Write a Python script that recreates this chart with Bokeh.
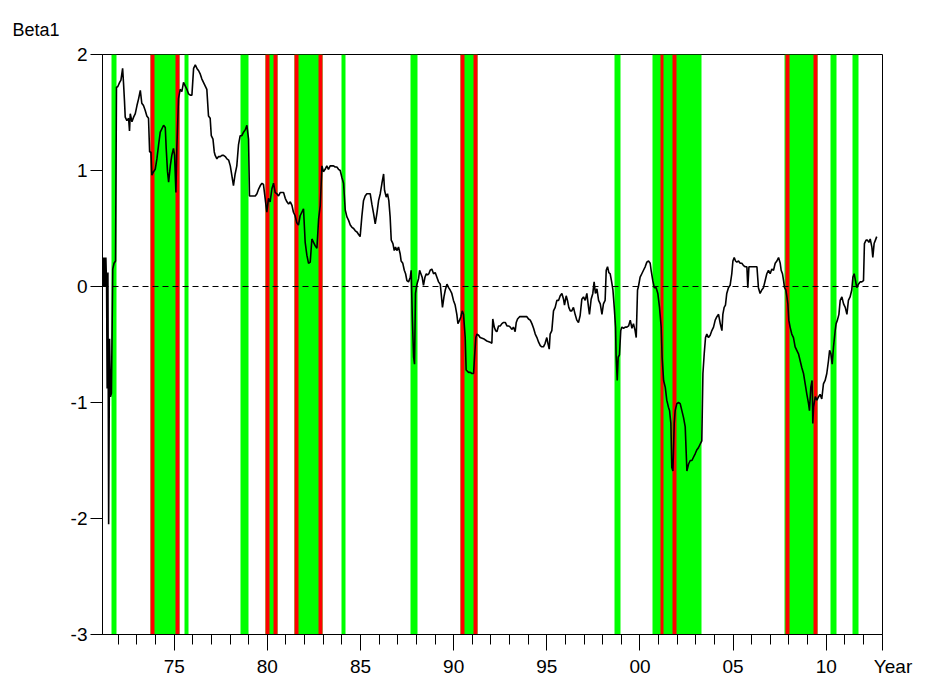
from bokeh.plotting import figure
from bokeh.models import FixedTicker, Span, Range1d
from bokeh.embed import file_html
from bokeh.resources import INLINE

# ---- data ----
years = [
    1971.17, 1971.21, 1971.25, 1971.29, 1971.33, 1971.37, 1971.40, 1971.44, 1971.48, 1971.53,
    1971.58, 1971.63, 1971.70, 1971.77, 1971.85, 1971.90,
    1971.96, 1972.07, 1972.14, 1972.23, 1972.28, 1972.33, 1972.37, 1972.46, 1972.55, 1972.60,
    1972.64, 1972.73, 1972.82, 1972.91, 1973.00, 1973.09, 1973.18, 1973.26, 1973.35, 1973.44,
    1973.53, 1973.62, 1973.68, 1973.75, 1973.80, 1973.89, 1973.98, 1974.07, 1974.16, 1974.25,
    1974.34, 1974.43, 1974.52, 1974.57, 1974.64, 1974.70, 1974.79, 1974.87, 1974.96, 1975.02,
    1975.09, 1975.14, 1975.23, 1975.32, 1975.41, 1975.50, 1975.59, 1975.68, 1975.77, 1975.86,
    1975.95, 1976.04, 1976.13, 1976.22, 1976.31, 1976.40, 1976.48, 1976.57, 1976.66, 1976.75,
    1976.84, 1976.93, 1976.99, 1977.08, 1977.15, 1977.20, 1977.29, 1977.38, 1977.47, 1977.56,
    1977.65, 1977.74, 1977.83, 1977.92, 1978.01, 1978.09, 1978.18, 1978.27, 1978.36, 1978.45,
    1978.54, 1978.63, 1978.72, 1978.81, 1978.90, 1978.99, 1979.04, 1979.17, 1979.26, 1979.35,
    1979.44, 1979.53, 1979.62, 1979.71, 1979.79, 1979.88, 1979.97, 1980.06, 1980.15, 1980.24,
    1980.33, 1980.42, 1980.51, 1980.60, 1980.69, 1980.78, 1980.87, 1980.96, 1981.05, 1981.14,
    1981.23, 1981.32, 1981.40, 1981.49, 1981.58, 1981.67, 1981.76, 1981.85, 1981.94, 1982.03,
    1982.12, 1982.21, 1982.30, 1982.39, 1982.48, 1982.57, 1982.66, 1982.75, 1982.84, 1982.93,
    1983.01, 1983.10, 1983.19, 1983.28, 1983.37,
    1983.55, 1983.64, 1983.73, 1983.82, 1983.91, 1984.00, 1984.09, 1984.18, 1984.27, 1984.36,
    1984.45, 1984.54, 1984.63, 1984.72, 1984.81, 1984.89, 1984.98, 1985.07, 1985.16, 1985.25,
    1985.34, 1985.43, 1985.52, 1985.61, 1985.70, 1985.79, 1985.88, 1985.97, 1986.06, 1986.15,
    1986.24, 1986.29, 1986.38, 1986.45, 1986.52, 1986.59, 1986.65, 1986.74, 1986.81, 1986.88,
    1986.95, 1987.04, 1987.13, 1987.18, 1987.27, 1987.35, 1987.42, 1987.49, 1987.58, 1987.67,
    1987.72, 1987.78, 1987.85, 1987.90, 1987.95, 1988.03, 1988.12, 1988.17, 1988.24, 1988.31,
    1988.38, 1988.46, 1988.53, 1988.60, 1988.67, 1988.74, 1988.83, 1988.92, 1989.01, 1989.10,
    1989.19, 1989.28, 1989.33, 1989.40, 1989.48, 1989.55, 1989.64, 1989.73, 1989.81, 1989.90,
    1989.99, 1990.08, 1990.17, 1990.23, 1990.32, 1990.39, 1990.46, 1990.53, 1990.62, 1990.67,
    1990.80, 1990.89, 1990.98, 1991.07, 1991.12, 1991.19, 1991.25, 1991.34, 1991.42,
    1991.60, 1991.78, 1991.96, 1992.05, 1992.10, 1992.18, 1992.25, 1992.32, 1992.41, 1992.50,
    1992.59, 1992.68, 1992.77, 1992.86, 1992.95, 1993.04, 1993.12, 1993.21, 1993.30, 1993.36,
    1993.43, 1993.54, 1993.66, 1993.75, 1993.84, 1993.93, 1994.02, 1994.11, 1994.20, 1994.29,
    1994.38, 1994.47, 1994.56, 1994.65, 1994.73, 1994.82, 1994.91, 1995.00, 1995.06, 1995.13,
    1995.18, 1995.27, 1995.36, 1995.45, 1995.54, 1995.63, 1995.72, 1995.81, 1995.90, 1995.95,
    1996.04, 1996.11, 1996.18, 1996.26, 1996.34, 1996.43, 1996.52, 1996.61, 1996.70, 1996.79,
    1996.88, 1996.97, 1997.06, 1997.15, 1997.24, 1997.29, 1997.38, 1997.47, 1997.54, 1997.61,
    1997.69, 1997.78, 1997.87, 1997.96, 1998.04, 1998.13, 1998.19, 1998.26, 1998.33, 1998.40,
    1998.47, 1998.55, 1998.62, 1998.69, 1998.72, 1998.78, 1998.83, 1998.90, 1998.97, 1999.03,
    1999.12, 1999.21, 1999.30, 1999.39, 1999.48, 1999.57, 1999.65, 1999.74, 1999.80, 1999.87,
    1999.92,
    2000.01, 2000.10, 2000.19, 2000.28, 2000.37, 2000.46, 2000.55, 2000.60, 2000.69, 2000.77,
    2000.87, 2000.96, 2001.05, 2001.14, 2001.19, 2001.27, 2001.36, 2001.44, 2001.53, 2001.59,
    2001.66, 2001.71, 2001.77, 2001.84, 2001.89, 2001.98, 2002.07, 2002.16, 2002.25, 2002.34,
    2002.43, 2002.52, 2002.61, 2002.70, 2002.79, 2002.88, 2002.97, 2003.05, 2003.14, 2003.23,
    2003.32, 2003.38, 2003.45, 2003.52, 2003.59, 2003.68, 2003.77, 2003.86, 2003.95, 2004.04,
    2004.13, 2004.22, 2004.31, 2004.40, 2004.45, 2004.52, 2004.59, 2004.66, 2004.75, 2004.84,
    2004.93, 2004.99, 2005.06, 2005.13, 2005.20, 2005.29, 2005.38, 2005.47, 2005.56, 2005.65,
    2005.74, 2005.79, 2005.85, 2005.92, 2006.10, 2006.28, 2006.36, 2006.45, 2006.54, 2006.63,
    2006.72, 2006.81, 2006.90, 2006.99, 2007.08, 2007.17, 2007.26, 2007.35, 2007.44, 2007.53,
    2007.58, 2007.65, 2007.71, 2007.76, 2007.83, 2007.89, 2007.94, 2007.99, 2008.06, 2008.15,
    2008.24, 2008.33, 2008.42, 2008.51, 2008.60, 2008.69, 2008.78, 2008.87, 2008.96, 2009.05,
    2009.10, 2009.17, 2009.24, 2009.28, 2009.32, 2009.41, 2009.50, 2009.59, 2009.67, 2009.76,
    2009.85, 2009.94, 2010.03, 2010.12, 2010.18, 2010.25, 2010.32, 2010.39, 2010.48, 2010.53,
    2010.60, 2010.68, 2010.75, 2010.84, 2010.93, 2011.02, 2011.11, 2011.19, 2011.28, 2011.37,
    2011.43, 2011.50, 2011.57, 2011.64, 2011.73, 2011.82, 2011.91, 2012.00, 2012.05, 2012.14,
    2012.21, 2012.29, 2012.36, 2012.45, 2012.50, 2012.57, 2012.64, 2012.71,
]

beta = [
    0.25, 0.00, 0.25, 0.00, 0.25, 0.00, -0.88, 0.12, -2.05, -0.45,
    -0.95, -0.92, 0.15, 0.20, 0.22, 1.72,
    1.72, 1.76, 1.78, 1.88, 1.75, 1.60, 1.46, 1.43, 1.45, 1.34,
    1.49, 1.42, 1.46, 1.49, 1.56, 1.62, 1.69, 1.58, 1.56, 1.52,
    1.47, 1.45, 1.16, 1.16, 0.96, 0.99, 1.01, 1.10, 1.22, 1.33,
    1.36, 1.39, 1.37, 1.19, 0.99, 0.90, 1.04, 1.13, 1.19, 1.13,
    0.81, 1.19, 1.62, 1.70, 1.68, 1.76, 1.73, 1.70, 1.66, 1.65,
    1.65, 1.88, 1.91, 1.88, 1.86, 1.83, 1.79, 1.76, 1.73, 1.70,
    1.47, 1.45, 1.30, 1.27, 1.16, 1.13, 1.10, 1.12, 1.12, 1.13,
    1.13, 1.12, 1.10, 1.09, 1.04, 0.96, 0.87, 0.97, 1.04, 1.22,
    1.30, 1.30, 1.33, 1.35, 1.39, 1.27, 0.78, 0.78, 0.78, 0.78,
    0.80, 0.84, 0.87, 0.89, 0.88, 0.76, 0.64, 0.76, 0.73, 0.84,
    0.89, 0.81, 0.80, 0.78, 0.81, 0.81, 0.81, 0.76, 0.73, 0.71,
    0.73, 0.70, 0.64, 0.61, 0.55, 0.53, 0.61, 0.64, 0.67, 0.38,
    0.27, 0.20, 0.21, 0.41, 0.38, 0.35, 0.33, 0.58, 0.70, 1.04,
    0.99, 1.01, 1.04, 1.01, 1.04,
    1.04, 1.03, 1.03, 1.01, 1.00, 0.94, 0.89, 0.66, 0.60, 0.57,
    0.53, 0.51, 0.50, 0.48, 0.47, 0.45, 0.43, 0.60, 0.74, 0.78,
    0.80, 0.80, 0.80, 0.71, 0.63, 0.54, 0.63, 0.74, 0.80, 0.89,
    0.97, 0.83, 0.77, 0.80, 0.74, 0.60, 0.40, 0.37, 0.31, 0.34,
    0.31, 0.34, 0.28, 0.22, 0.20, 0.14, 0.11, 0.05, 0.04, 0.08,
    0.14, -0.26, -0.61, -0.67, -0.06, 0.02, 0.07, 0.14, 0.11, 0.08,
    0.01, 0.08, 0.11, 0.10, 0.11, 0.14, 0.15, 0.11, 0.12, 0.08,
    0.04, 0.02, -0.06, -0.18, -0.09, -0.03, 0.02, -0.01, -0.03, -0.06,
    -0.12, -0.16, -0.24, -0.32, -0.29, -0.26, -0.21, -0.24, -0.44, -0.72,
    -0.74, -0.74, -0.75, -0.75, -0.61, -0.44, -0.41, -0.42, -0.44,
    -0.45, -0.47, -0.48, -0.49, -0.28, -0.35, -0.38, -0.39, -0.34, -0.34,
    -0.32, -0.31, -0.31, -0.34, -0.34, -0.35, -0.37, -0.35, -0.39, -0.31,
    -0.28, -0.26, -0.26, -0.26, -0.26, -0.26, -0.28, -0.29, -0.32, -0.36,
    -0.41, -0.44, -0.48, -0.51, -0.52, -0.52, -0.49, -0.44, -0.49, -0.54,
    -0.41, -0.38, -0.21, -0.18, -0.12, -0.12, -0.08, -0.06, -0.11, -0.16,
    -0.08, -0.12, -0.18, -0.21, -0.21, -0.18, -0.24, -0.29, -0.31, -0.25,
    -0.11, -0.09, -0.12, -0.06, -0.18, -0.24, -0.11, -0.06, 0.04, -0.06,
    -0.02, -0.12, -0.15, -0.24, -0.15, -0.12, 0.14, 0.17, 0.12, 0.11,
    0.05, -0.03, -0.18, -0.35, -0.59, -0.81, -0.61, -0.59, -0.38, -0.35,
    -0.36, -0.35, -0.35, -0.34, -0.29, -0.36, -0.32, -0.38, -0.44, -0.03,
    0.00,
    0.08, 0.11, 0.14, 0.17, 0.21, 0.22, 0.20, 0.14, 0.05, -0.01,
    -0.01, -0.06, -0.18, -0.35, -0.61, -0.81, -0.87, -0.98, -1.04, -1.07,
    -1.18, -1.56, -1.59, -1.18, -1.07, -1.01, -1.00, -1.01, -1.07, -1.13,
    -1.21, -1.59, -1.53, -1.50, -1.50, -1.47, -1.44, -1.41, -1.39, -1.36,
    -1.33, -0.75, -0.58, -0.44, -0.41, -0.44, -0.42, -0.38, -0.35, -0.29,
    -0.26, -0.24, -0.32, -0.38, -0.24, -0.18, -0.16, -0.06, -0.01, 0.01,
    0.11, 0.22, 0.25, 0.22, 0.21, 0.22, 0.20, 0.20, 0.18, 0.17,
    0.17, -0.01, 0.17, 0.17, 0.17, 0.17, -0.01, -0.06, -0.03, -0.01,
    0.05, 0.11, 0.14, 0.11, 0.15, 0.14, 0.20, 0.22, 0.25, 0.20,
    0.14, 0.11, 0.05, -0.01, -0.03, -0.09, -0.15, -0.29, -0.35, -0.41,
    -0.44, -0.52, -0.55, -0.58, -0.64, -0.70, -0.75, -0.84, -0.93, -1.01,
    -1.07, -0.87, -0.81, -1.18, -1.04, -0.95, -0.98, -0.95, -0.93, -0.97,
    -0.84, -0.81, -0.75, -0.64, -0.55, -0.58, -0.67, -0.52, -0.38, -0.32,
    -0.29, -0.24, -0.12, -0.09, -0.15, -0.18, -0.24, -0.12, -0.09, -0.03,
    0.08, 0.11, 0.05, -0.01, 0.02, 0.04, 0.04, 0.05, 0.37, 0.40,
    0.40, 0.38, 0.41, 0.34, 0.25, 0.37, 0.40, 0.43,
]

green_start = [1971.65, 1973.71, 1975.54, 1978.54, 1979.88, 1981.44, 1983.96, 1987.67,
               1990.35, 1998.63, 2000.69, 2007.75, 2010.21, 2011.39]
green_end = [1971.90, 1975.28, 1975.79, 1978.99, 1980.56, 1982.98, 1984.18, 1988.06,
             1991.28, 1998.98, 2003.29, 2009.55, 2010.53, 2011.73]

red_start = [1973.71, 1975.05, 1979.88, 1980.33, 1981.44, 1982.75, 1990.35, 1991.07,
             2001.09, 2001.77, 2007.80, 2009.32]
red_end = [1973.94, 1975.28, 1980.12, 1980.56, 1981.67, 1982.98, 1990.57, 1991.28,
           2001.27, 2001.98, 2008.01, 2009.55]

x_start, x_end = 1971.15, 2013.02
y_min, y_max = -3, 2
x_major = [1975, 1980, 1985, 1990, 1995, 2000, 2005, 2010]
x_labels = ["75", "80", "85", "90", "95", "00", "05", "10"]
x_minor = [1972, 1973, 1974, 1975, 1976, 1977, 1978, 1979, 1980, 1981, 1982, 1983,
           1984, 1985, 1986, 1987, 1988, 1989, 1990, 1991, 1992, 1993, 1994, 1995,
           1996, 1997, 1998, 1999, 2000, 2001, 2002, 2003, 2004, 2005, 2006, 2007,
           2008, 2009, 2010, 2011, 2012]
x_title = "Year"
y_title = "Beta1"
y_ticks = [-3, -2, -1, 0, 1, 2]
y_labels = ["-3", "-2", "-1", "0", "1", "2"]

FONT = "Liberation Sans"

p = figure(width=929, height=681, output_backend="svg", toolbar_location=None,
           x_range=Range1d(x_start, x_end), y_range=Range1d(y_min, y_max),
           min_border_left=102, min_border_right=47, min_border_top=54,
           min_border_bottom=47)
p.background_fill_color = "white"
p.border_fill_color = "white"
p.outline_line_color = "black"
p.outline_line_width = 1
p.xgrid.visible = False
p.ygrid.visible = False

# "Beta1" header at the top-left, as the plot title
p.title.text = y_title
p.title.align = "left"
p.title.offset = -90
p.title.standoff = 30
p.title.text_font = FONT
p.title.text_font_size = "18px"
p.title.text_font_style = "normal"
p.title.text_color = "black"

# shaded periods
p.vstrip(x0=green_start, x1=green_end, fill_color="#00FF00", line_color=None)
p.vstrip(x0=red_start, x1=red_end, fill_color="#FF0000", line_color=None)

# zero reference line
p.add_layout(Span(location=0, dimension="width", line_color="black",
                  line_dash="6 4", line_width=1.2))

# series
p.line(years, beta, line_color="black", line_width=1.6)

# x axis ("Year" sits at the right end of the axis, as an end label)
pad = "\u00a0" * 4
xa = p.xaxis[0]
xa.ticker = FixedTicker(ticks=x_major + [x_end], minor_ticks=x_minor)
overrides = dict(zip(x_major, x_labels))
overrides[x_end] = pad + x_title
xa.major_label_overrides = overrides
xa.major_tick_out = 16
xa.major_tick_in = 0
xa.minor_tick_out = 10
xa.minor_tick_in = 0
xa.major_label_standoff = 5
xa.major_label_text_font = FONT
xa.major_label_text_font_size = "19px"
xa.major_label_text_color = "black"
xa.axis_line_color = "black"
xa.major_tick_line_color = "black"
xa.minor_tick_line_color = "black"

# y axis
ya = p.yaxis[0]
ya.ticker = FixedTicker(ticks=y_ticks, minor_ticks=[])
ya.major_label_overrides = dict(zip(y_ticks, y_labels))
ya.major_tick_out = 12
ya.major_tick_in = 0
ya.minor_tick_out = 0
ya.minor_tick_in = 0
ya.major_label_standoff = 3
ya.major_label_text_font = FONT
ya.major_label_text_font_size = "19px"
ya.major_label_text_color = "black"
ya.axis_line_color = "black"
ya.major_tick_line_color = "black"

open("out.html", "w").write(file_html(p, INLINE))
